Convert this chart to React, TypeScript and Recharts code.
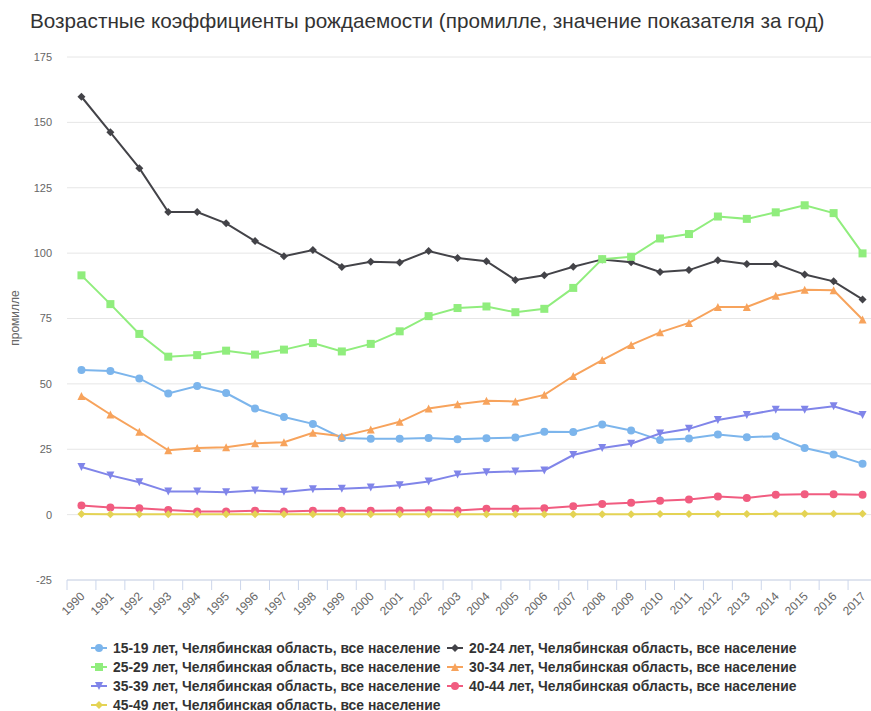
import React from 'react';
import { LineChart, Line, XAxis, YAxis, CartesianGrid } from 'recharts';

const years = [
  '1990', '1991', '1992', '1993', '1994', '1995', '1996', '1997', '1998', '1999',
  '2000', '2001', '2002', '2003', '2004', '2005', '2006', '2007', '2008', '2009',
  '2010', '2011', '2012', '2013', '2014', '2015', '2016', '2017',
];

const age15to19 = [55.3, 54.9, 52.1, 46.3, 49.2, 46.5, 40.6, 37.3, 34.7, 29.3, 29.0, 29.0, 29.3, 28.8, 29.2, 29.5, 31.7, 31.6, 34.5, 32.2, 28.5, 29.1, 30.6, 29.6, 30.0, 25.5, 23.0, 19.5];
const age20to24 = [159.8, 146.2, 132.5, 115.7, 115.7, 111.4, 104.6, 98.8, 101.2, 94.7, 96.7, 96.4, 100.8, 98.1, 96.9, 89.7, 91.5, 94.8, 97.6, 96.5, 92.8, 93.5, 97.3, 95.8, 95.8, 91.8, 89.2, 82.3];
const age25to29 = [91.5, 80.5, 69.1, 60.4, 61.0, 62.7, 61.2, 63.1, 65.6, 62.4, 65.3, 70.1, 75.9, 79.0, 79.6, 77.4, 78.7, 86.7, 97.7, 98.6, 105.6, 107.3, 114.0, 113.1, 115.6, 118.3, 115.3, 99.9];
const age30to34 = [45.4, 38.3, 31.7, 24.6, 25.5, 25.8, 27.3, 27.7, 31.3, 30.0, 32.6, 35.5, 40.6, 42.2, 43.5, 43.3, 45.8, 53.0, 59.1, 64.9, 69.7, 73.3, 79.4, 79.4, 83.7, 86.0, 85.8, 74.6];
const age35to39 = [18.2, 15.0, 12.4, 8.8, 8.8, 8.6, 9.2, 8.7, 9.7, 9.9, 10.4, 11.2, 12.7, 15.3, 16.2, 16.5, 16.9, 22.8, 25.5, 27.1, 31.0, 32.8, 36.2, 38.1, 40.1, 40.1, 41.4, 38.1];
const age40to44 = [3.5, 2.7, 2.4, 1.8, 1.2, 1.2, 1.5, 1.2, 1.5, 1.5, 1.5, 1.6, 1.7, 1.6, 2.2, 2.2, 2.4, 3.2, 4.1, 4.5, 5.3, 5.8, 6.9, 6.4, 7.6, 7.8, 7.8, 7.6];
const age45to49 = [0.2, 0.1, 0.1, 0.1, 0.1, 0.1, 0.1, 0.1, 0.1, 0.1, 0.1, 0.1, 0.1, 0.1, 0.1, 0.1, 0.1, 0.1, 0.1, 0.1, 0.2, 0.2, 0.2, 0.2, 0.3, 0.3, 0.3, 0.3];

const yTicks = [-25, 0, 25, 50, 75, 100, 125, 150, 175];

const suffix = ' лет, Челябинская область, все население';

const series = [
  { key: 'a15', name: '15-19' + suffix, values: age15to19, color: '#7cb5ec', shape: 'circle' },
  { key: 'a20', name: '20-24' + suffix, values: age20to24, color: '#434348', shape: 'diamond' },
  { key: 'a25', name: '25-29' + suffix, values: age25to29, color: '#90ed7d', shape: 'square' },
  { key: 'a30', name: '30-34' + suffix, values: age30to34, color: '#f7a35c', shape: 'triangle' },
  { key: 'a35', name: '35-39' + suffix, values: age35to39, color: '#8085e9', shape: 'triangle-down' },
  { key: 'a40', name: '40-44' + suffix, values: age40to44, color: '#f15c80', shape: 'circle' },
  { key: 'a45', name: '45-49' + suffix, values: age45to49, color: '#e4d354', shape: 'diamond' },
];

const data = years.map((year, i) => {
  const row: any = { year };
  series.forEach((s) => { row[s.key] = s.values[i]; });
  return row;
});

const W = 880;
const H = 711;
const M = { top: 57, right: 3, left: 0, bottom: 81 };
const Y_AXIS_W = 67;
const step = (W - M.right - M.left - Y_AXIS_W) / years.length;
const font = '"Liberation Sans", Arial, sans-serif';

const Marker = ({ shape, x, y, color }: any) => {
  const r = 4;
  if (shape === 'circle') return <circle cx={x} cy={y} r={r} fill={color} />;
  if (shape === 'square') return <rect x={x - r} y={y - r} width={r * 2} height={r * 2} fill={color} />;
  if (shape === 'diamond')
    return <path d={`M${x} ${y - r}L${x + r} ${y}L${x} ${y + r}L${x - r} ${y}Z`} fill={color} />;
  if (shape === 'triangle')
    return <path d={`M${x} ${y - r}L${x + r} ${y + r}L${x - r} ${y + r}Z`} fill={color} />;
  return <path d={`M${x - r} ${y - r}L${x + r} ${y - r}L${x} ${y + r}Z`} fill={color} />;
};

const makeDot = (shape: string, color: string) => (props: any) => {
  const { cx, cy, index } = props;
  return <Marker key={`${shape}-${color}-${index}`} shape={shape} x={cx} y={cy} color={color} />;
};

const XTick = (props: any) => {
  const { x, y, payload, index } = props;
  const lx = x + 4;
  const ly = y + 17;
  return (
    <g>
      <line x1={x - step / 2} x2={x - step / 2} y1={y} y2={y + 10} stroke="#ccd6eb" />
      {index === years.length - 1 && (
        <line x1={x + step / 2} x2={x + step / 2} y1={y} y2={y + 10} stroke="#ccd6eb" />
      )}
      <text
        x={lx}
        y={ly}
        transform={`rotate(-45 ${lx} ${ly})`}
        textAnchor="end"
        fill="#666666"
        fontSize={12}
        fontFamily={font}
      >
        {payload.value}
      </text>
    </g>
  );
};

const YLabel = () => (
  <text
    x={19}
    y={318}
    transform="rotate(-90 19 318)"
    textAnchor="middle"
    fill="#666666"
    fontSize={12}
    fontFamily={font}
  >
    промилле
  </text>
);

const LegendItem = ({ s }: any) => (
  <div style={{ display: 'flex', alignItems: 'center', height: 19 }}>
    <svg width={18} height={12} style={{ marginRight: 4 }}>
      <line x1={0} x2={16} y1={6} y2={6} stroke={s.color} strokeWidth={2} />
      <Marker shape={s.shape} x={8} y={6} color={s.color} />
    </svg>
    <span style={{ fontFamily: font, fontSize: 13.9, fontWeight: 'bold', color: '#333333', whiteSpace: 'nowrap' }}>
      {s.name}
    </span>
  </div>
);

export default function App() {
  return (
    <div style={{ position: 'absolute', left: 0, top: 0, width: 871, height: 711, overflow: 'hidden', background: '#ffffff' }}>
      <div
        style={{
          position: 'absolute',
          left: 30,
          top: 9,
          fontFamily: font,
          fontSize: 20.7,
          color: '#333333',
          whiteSpace: 'nowrap',
        }}
      >
        Возрастные коэффициенты рождаемости (промилле, значение показателя за год)
      </div>
      <LineChart width={W} height={H} data={data} margin={M}>
        <CartesianGrid vertical={false} stroke="#e6e6e6" />
        <XAxis
          dataKey="year"
          height={50}
          interval={0}
          padding={{ left: step / 2, right: step / 2 }}
          tickSize={0}
          tickMargin={0}
          tickLine={false}
          axisLine={{ stroke: '#ccd6eb' }}
          tick={<XTick />}
        />
        <YAxis
          width={Y_AXIS_W}
          domain={[-25, 175]}
          ticks={yTicks}
          interval={0}
          axisLine={false}
          tickLine={false}
          tickSize={0}
          tickMargin={15}
          tick={{ fill: '#666666', fontSize: 11, fontFamily: font }}
          label={<YLabel />}
        />
        {series.map((s) => (
          <Line
            key={s.key}
            dataKey={s.key}
            name={s.name}
            stroke={s.color}
            strokeWidth={2}
            dot={makeDot(s.shape, s.color)}
            activeDot={false}
            isAnimationActive={false}
          />
        ))}
      </LineChart>
      {series.map((s, i) => (
        <div
          key={s.key}
          style={{
            position: 'absolute',
            left: i % 2 === 0 ? 91 : 447,
            top: 638 + Math.floor(i / 2) * 19,
          }}
        >
          <LegendItem s={s} />
        </div>
      ))}
    </div>
  );
}
